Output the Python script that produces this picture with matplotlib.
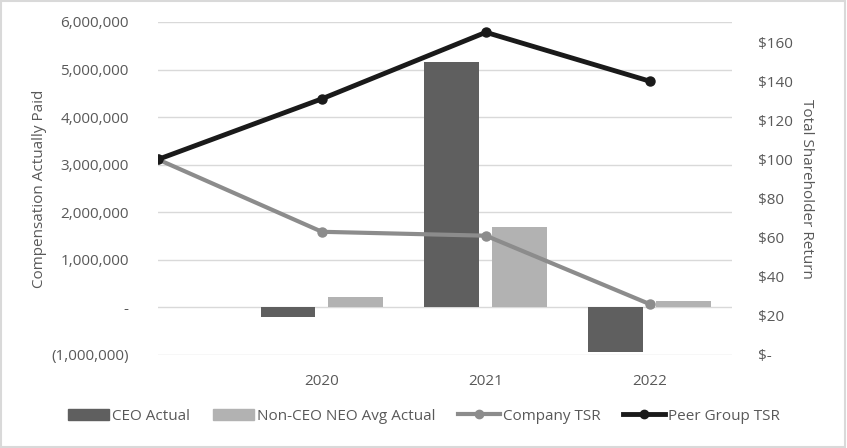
import matplotlib.pyplot as plt
import matplotlib.ticker as mticker
from matplotlib.lines import Line2D
from matplotlib.patches import Patch

plt.rcParams['font.family'] = ['Open Sans', 'DejaVu Sans']

# data
years = ['', '2020', '2021', '2022']
ceo_actual = [None, -200000, 5160000, -930000]
neo_avg_actual = [None, 210000, 1680000, 130000]
company_tsr = [100, 63, 61, 26]
peer_tsr = [100, 131, 165, 140]

TEXT = '#595959'
GRID = '#d9d9d9'
CEO_COL = '#5f5f5f'
NEO_COL = '#b2b2b2'
COMP_COL = '#8c8c8c'
PEER_COL = '#1a1a1a'

fig = plt.figure(figsize=(8.47, 4.48), dpi=100)
ax = fig.add_axes([0.1865, 0.2076, 0.8640 - 0.1865, 0.951 - 0.2076])
ax2 = ax.twinx()

x = list(range(len(years)))
w = 0.335
off = 0.207
for i in x:
    if ceo_actual[i] is not None:
        ax.bar(i - off, ceo_actual[i], width=w, color=CEO_COL, zorder=2)
    if neo_avg_actual[i] is not None:
        ax.bar(i + off, neo_avg_actual[i], width=w, color=NEO_COL, zorder=2)

ax.set_xlim(0, 3.5)
ax.set_ylim(-1000000, 6000000)
ax.yaxis.set_major_locator(mticker.MultipleLocator(1000000))


def money_fmt(v, pos):
    if abs(v) < 1:
        return '-'
    if v < 0:
        return f'({abs(v):,.0f})'
    return f'{v:,.0f}'


ax.yaxis.set_major_formatter(mticker.FuncFormatter(money_fmt))
ax.grid(axis='y', color=GRID, linewidth=1, zorder=0)
ax.set_axisbelow(True)
ax.set_xticks(x)
ax.set_xticklabels(years)

ax2.plot(x, company_tsr, color=COMP_COL, linewidth=3, marker='o', markersize=6.5, zorder=3)
ax2.plot(x, peer_tsr, color=PEER_COL, linewidth=3.5, marker='o', markersize=6.5, zorder=4)
ax2.set_ylim(0, 170.3)
ax2.yaxis.set_major_locator(mticker.FixedLocator(range(0, 161, 20)))
ax2.yaxis.set_major_formatter(mticker.FuncFormatter(lambda v, p: '$-' if v == 0 else f'${v:.0f}'))

for a in (ax, ax2):
    for s in a.spines.values():
        s.set_visible(False)
    a.tick_params(length=0, colors=TEXT, labelsize=11)

ax.tick_params(axis='y', pad=21)
ax.tick_params(axis='x', pad=14)
ax2.tick_params(axis='y', pad=19)

ax.set_ylabel('Compensation Actually Paid', color=TEXT, fontsize=11, labelpad=3)
ax2.set_ylabel('Total Shareholder Return', color=TEXT, fontsize=11, rotation=270, labelpad=15)

handles = [
    Patch(color=CEO_COL),
    Patch(color=NEO_COL),
    Line2D([], [], color=COMP_COL, linewidth=3, marker='o', markersize=6),
    Line2D([], [], color=PEER_COL, linewidth=3.5, marker='o', markersize=6),
]
labels = ['CEO Actual', 'Non-CEO NEO Avg Actual', 'Company TSR', 'Peer Group TSR']
fig.legend(handles, labels, loc='center', bbox_to_anchor=(0.5, 1 - 416 / 448), ncol=4,
           frameon=False, fontsize=11, labelcolor=TEXT, handlelength=2.7,
           handletextpad=0.2, columnspacing=1.5)

fig.patches.append(plt.Rectangle((0.001, 0.002), 0.997, 0.995, transform=fig.transFigure,
                                 fill=False, edgecolor='#d9d9d9', linewidth=1.5))

fig.savefig('out.png', dpi=100)
